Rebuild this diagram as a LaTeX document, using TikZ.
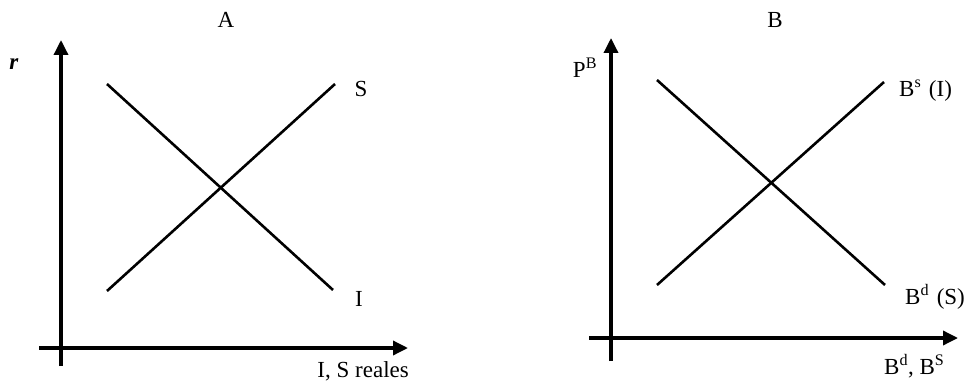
\documentclass[tikz,border=0pt]{standalone}
\usepackage{fontspec}
\setmainfont{Liberation Serif}
\usetikzlibrary{arrows.meta}
\begin{document}
\begin{tikzpicture}[x=1pt,y=-1pt,
  axis/.style={line width=3.4pt,-{Triangle[length=15pt,width=14pt]}},
  curve/.style={line width=2.6pt},
  lbl/.style={font=\fontsize{23}{25}\selectfont,inner sep=0pt}]
\useasboundingbox (0,0) rectangle (974,382);
% Panel A
\coordinate (ay0) at (61,366);
\coordinate (ay1) at (61,40);
\coordinate (ax0) at (39,348);
\coordinate (ax1) at (408,348);
\draw[axis] (ay0) -- (ay1);
\draw[axis] (ax0) -- (ax1);
\coordinate (aI0) at (107,84);
\coordinate (aI1) at (333,290);
\coordinate (aS0) at (107,291);
\coordinate (aS1) at (335,84);
\draw[curve] (aI0) -- (aI1);
\draw[curve] (aS0) -- (aS1);
\node[lbl] (tA) at (226,20) {A};
\node[lbl] (lr) at (14,64) {\textbf{\textit{r}}};
\node[lbl] (lS) at (361,89) {S};
\node[lbl] (lI) at (359,299) {I};
\node[lbl,anchor=east] (lxA) at (409,371) {I, S reales};
% Panel B
\coordinate (by0) at (611,361);
\coordinate (by1) at (611,38);
\coordinate (bx0) at (589,338);
\coordinate (bx1) at (958,338);
\draw[axis] (by0) -- (by1);
\draw[axis] (bx0) -- (bx1);
\coordinate (bd0) at (657,80);
\coordinate (bd1) at (885,285);
\coordinate (bs0) at (657,285);
\coordinate (bs1) at (884,82);
\draw[curve] (bd0) -- (bd1);
\draw[curve] (bs0) -- (bs1);
\node[lbl] (tB) at (775,20) {B};
\node[lbl] (lP) at (585,68) {P\textsuperscript{B}};
\node[lbl,anchor=west] (lBs) at (899,91) {B\textsuperscript{s}\,\,(I)};
\node[lbl,anchor=west] (lBd) at (905,297) {B\textsuperscript{d}\,\,(S)};
\node[lbl,anchor=west] (lxB) at (884,366) {B\textsuperscript{d}, B\textsuperscript{S}};
\end{tikzpicture}
\end{document}
